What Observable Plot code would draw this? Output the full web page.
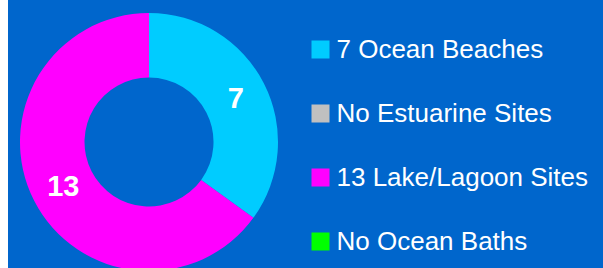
<!DOCTYPE html>
<html><head><meta charset="utf-8">
<script src="https://cdn.jsdelivr.net/npm/d3@7"></script>
<script src="https://cdn.jsdelivr.net/npm/@observablehq/plot@0.6"></script>
<style>
html,body{margin:0;padding:0;background:#fff;overflow:hidden}
#wrap{position:relative;width:603px;height:268px;overflow:hidden;background:#fff}
#bg{position:absolute;left:8px;top:0;width:595px;height:268px;background:#0066CC}
#chart,#legend{position:absolute;top:0}
#chart{left:0}
#legend{left:300px}
</style></head><body>
<div id="wrap"><div id="bg"></div><div id="chart"></div><div id="legend"></div></div>
<script>
// ---- data ----
const categories = ["7 Ocean Beaches", "No Estuarine Sites", "13 Lake/Lagoon Sites", "No Ocean Baths"];
const values = [7, 0, 13, 0];
const sliceLabels = ["7", "", "13", ""];
const colors = ["#00CCFF", "#C0C0C0", "#FF00FF", "#00FF00"];

const rows = categories.map((c, i) => ({category: c, value: values[i], label: sliceLabels[i], color: colors[i]}));
const arcs = d3.pie().sort(null).value(d => d.value)(rows);
const labelR = 0.75, innerR = 0.5;
const labelRows = arcs.filter(a => a.data.value > 0).map(a => {
  const m = (a.startAngle + a.endAngle) / 2;
  return {label: a.data.label, x: labelR * Math.sin(m), y: labelR * Math.cos(m)};
});

const font = "'Liberation Sans', Arial, Helvetica, sans-serif";

function donut(index, scales) {
  const {x, y} = scales;
  const cx = x(0), cy = y(0), R = x(1) - x(0);
  const arcGen = d3.arc().innerRadius(R * innerR).outerRadius(R);
  const g = d3.create("svg:g").attr("transform", `translate(${cx},${cy})`);
  g.selectAll("path").data(arcs.filter(a => a.data.value > 0)).join("path")
    .attr("d", arcGen).attr("fill", a => a.data.color);
  return g.node();
}

const chart = Plot.plot({
  width: 300, height: 268, margin: 0,
  style: {background: "transparent", fontFamily: font},
  x: {domain: [-1, 1], range: [20, 278], axis: null},
  y: {domain: [-1, 1], range: [271, 13], axis: null},
  marks: [
    donut,
    Plot.text(labelRows, {x: "x", y: "y", text: "label", fill: "white", fontWeight: "bold", fontSize: 29})
  ]
});
document.getElementById("chart").appendChild(chart);

const legend = Plot.plot({
  width: 303, height: 268, margin: 0,
  style: {background: "transparent", fontFamily: font},
  x: {domain: [0, 1], axis: null},
  y: {type: "point", domain: categories, range: [47.5, 242], padding: 0, axis: null},
  color: {domain: categories, range: colors},
  marks: [
    Plot.dot(rows, {y: "category", fill: "category", symbol: "square", r: 10.155, frameAnchor: "left", dx: 20}),
    Plot.text(rows, {y: "category", text: "category", frameAnchor: "left", textAnchor: "start", dx: 36, fill: "white", fontSize: 26})
  ]
});
document.getElementById("legend").appendChild(legend);
</script>
</body></html>
